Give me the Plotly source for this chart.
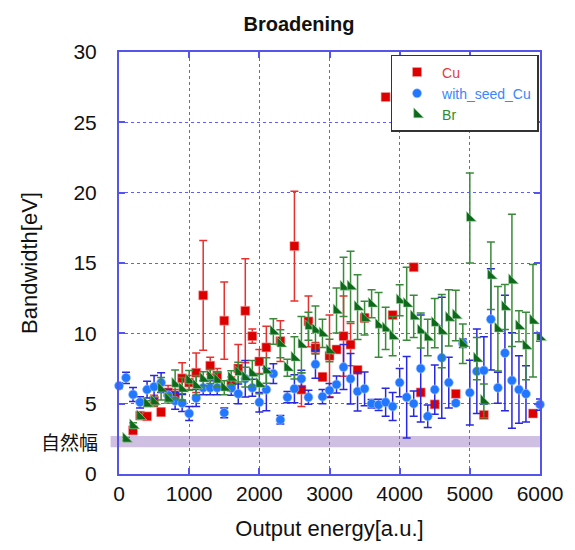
import plotly.graph_objects as go

# ---------------- data ----------------
cu_x = [200, 300, 400, 500, 600, 700, 800, 900, 1000, 1100,
        1200, 1300, 1400, 1500, 1600, 1700, 1800, 1900, 2000, 2100,
        2300, 2500, 2600, 2700, 2800, 2900,
        3000, 3100, 3200, 3300, 3400, 3500,
        3800, 3900, 4200, 4300, 4500, 4800, 5200, 5900]
cu_y = [3.1, 4.15, 4.1, 5.2, 4.4, 5.8, 5.6, 6.8, 6.5, 7.2,
        12.7, 7.7, 7.0, 10.9, 6.4, 7.5, 11.6, 9.8, 8.0, 9.0,
        9.45, 16.2, 6.0, 10.85, 8.95, 6.9,
        8.4, 8.85, 9.8, 9.2, 7.4, 11.1,
        26.8, 11.3, 14.7, 5.8, 4.95, 5.7, 4.2, 4.3]
cu_err = [0.3, 0.2, 0.2, 0.4, 0.3, 0.5, 0.4, 1.1, 0.5, 1.4,
          3.9, 0.6, 0.5, 2.75, 0.5, 1.7, 3.7, 0.5, 0.85, 1.5,
          1.45, 3.9, 1.2, 1.8, 0.4, 0.3,
          2.9, 0.2, 2.85, 1.5, 0.2, 0.3,
          0.2, 0.2, 0.2, 0.2, 0.2, 0.2, 0.2, 0.2]

seed_x = [0, 100, 200, 300, 400, 500, 600, 700, 800, 900,
          1000, 1100, 1200, 1300, 1400, 1500, 1600, 1700, 1800, 1900,
          2000, 2100, 2200, 2300, 2400, 2500, 2600, 2700, 2800, 2900,
          3000, 3100, 3200, 3300, 3400, 3500, 3600, 3700, 3800, 3900,
          4000, 4100, 4200, 4300, 4400, 4500, 4600, 4700, 4800, 4900,
          5000, 5100, 5200, 5300, 5400, 5500, 5600, 5700, 5800, 6000]
seed_y = [6.27, 6.84, 5.65, 5.1, 6.0, 6.2, 6.5, 5.6, 5.2, 5.05,
          4.3, 5.4, 6.13, 6.13, 6.13, 4.35, 6.1, 5.7, 6.77, 6.13,
          5.1, 6.0, 7.13, 3.85, 5.46, 6.06, 6.77, 5.46, 7.8, 5.5,
          5.94, 6.36, 7.6, 6.77, 5.87, 6.06, 5.0, 4.92, 5.1, 4.8,
          6.5, 5.46, 5.0, 7.5, 4.1, 6.0, 8.26, 6.5, 5.04, 9.3,
          5.78, 7.3, 7.36, 11.0, 6.13, 8.6, 6.65, 6.0, 5.7, 4.94]
seed_err = [0.2, 0.4, 0.5, 0.4, 0.6, 0.8, 0.7, 0.4, 0.6, 0.6,
            0.5, 0.6, 0.5, 0.5, 0.5, 0.35, 0.5, 0.7, 1.3, 0.6,
            0.7, 1.5, 0.7, 0.3, 0.4, 1.0, 0.6, 0.5, 1.0, 0.5,
            0.5, 0.6, 1.6, 1.8, 1.4, 1.2, 0.3, 0.4, 1.0, 1.0,
            1.0, 2.9, 0.9, 3.8, 0.8, 1.75, 4.3, 1.8, 0.15, 0.3,
            2.3, 3.0, 2.4, 3.6, 1.1, 4.1, 3.4, 2.4, 2.0, 0.4]

br_x = [100, 200, 300, 400, 500, 600, 700, 800, 900,
        1000, 1100, 1200, 1300, 1400, 1500, 1600, 1700, 1800, 1900,
        2000, 2100, 2200, 2300, 2400, 2500, 2600, 2700, 2800, 2900,
        3000, 3100, 3200, 3300, 3400, 3500, 3600, 3700, 3800, 3900,
        4000, 4100, 4200, 4300, 4400, 4500, 4600, 4700, 4800, 4900,
        5000, 5100, 5200, 5300, 5400, 5500, 5600, 5700, 5800, 5900, 6000]
br_y = [2.5, 3.45, 4.1, 5.0, 5.15, 6.06, 5.35, 6.4, 6.06,
        6.65, 6.3, 6.77, 6.93, 6.7, 6.13, 6.84, 7.24, 6.88, 7.17,
        6.4, 7.36, 10.13, 9.26, 7.55, 8.26, 9.2, 10.5, 10.25, 10.0,
        8.78, 11.63, 13.3, 13.33, 11.87, 11.08, 12.1, 10.6, 10.35, 9.8,
        12.35, 12.1, 11.2, 10.2, 9.7, 10.73, 10.16, 11.1, 11.27, 9.26,
        18.2, 8.2, 5.2, 14.1, 10.33, 11.87, 13.76, 10.5, 9.1, 10.9, 9.73]
br_err = [0.1, 0.2, 0.2, 0.2, 0.3, 0.8, 0.3, 1.0, 0.8,
          0.7, 0.7, 0.5, 0.5, 0.5, 0.5, 0.5, 0.7, 0.7, 0.9,
          0.7, 0.9, 0.9, 1.0, 0.6, 1.5, 2.0, 1.0, 1.7, 1.0,
          0.8, 1.6, 2.1, 2.5, 2.3, 1.2, 1.0, 2.3, 1.5, 1.4,
          1.1, 2.6, 1.5, 1.25, 1.3, 1.75, 2.6, 2.0, 1.8, 1.4,
          3.2, 1.5, 1.2, 2.4, 3.0, 1.6, 4.7, 1.1, 2.4, 4.0, 0.3]

natural_width = [1.9, 2.7]   # 自然幅 band (eV)

# ---------------- styles ----------------
FRAME = "#5555ee"
GRID = "#5f5fff"
FONT = "Liberation Sans, Arial, Helvetica, sans-serif"

fig = go.Figure()

fig.add_trace(go.Scatter(
    x=cu_x, y=cu_y, mode="markers", cliponaxis=False,
    name="<span style='color:#e23b3b'>Cu</span>",
    marker=dict(symbol="square", size=9, color="#dd0000",
                line=dict(width=0.6, color="#f3a0a0")),
    error_y=dict(type="data", array=cu_err, color="#e8302f",
                 thickness=1.5, width=4),
))
fig.add_trace(go.Scatter(
    x=seed_x, y=seed_y, mode="markers", cliponaxis=False,
    name="<span style='color:#3a86ff'>with_seed_Cu</span>",
    marker=dict(symbol="circle", size=9, color="#2277ff",
                line=dict(width=0.6, color="#a0c4ff")),
    error_y=dict(type="data", array=seed_err, color="#2828e0",
                 thickness=1.5, width=4),
))
fig.add_trace(go.Scatter(
    x=br_x, y=br_y, mode="markers", cliponaxis=False,
    name="<span style='color:#2e8b2e'>Br</span>",
    marker=dict(symbol="triangle-sw", size=11, color="#0c6a1a",
                line=dict(width=0.6, color="#9fd0a0")),
    error_y=dict(type="data", array=br_err, color="#3b8a3b",
                 thickness=1.5, width=4),
))

# natural width band
fig.add_shape(type="rect", xref="paper", yref="y",
              x0=-0.02, x1=1, y0=natural_width[0], y1=natural_width[1],
              fillcolor="#cfc0e3", line=dict(width=0), layer="below")
fig.add_annotation(text="自然幅", xref="paper", yref="y",
                   x=-0.045, y=sum(natural_width) / 2,
                   xanchor="right", yanchor="middle", showarrow=False,
                   font=dict(family="Noto Sans CJK JP", size=19, color="#111"))

axis_common = dict(
    showline=True, linecolor=FRAME, linewidth=2, mirror="ticks",
    ticks="inside", ticklen=6, tickwidth=2, tickcolor=FRAME,
    showgrid=True, gridcolor=GRID, gridwidth=1.2, griddash="dot",
    zeroline=False,
    tickfont=dict(family=FONT, size=21, color="#111"),
)

fig.update_layout(
    width=575, height=550,
    margin=dict(l=119, r=35, t=52, b=76),
    paper_bgcolor="white", plot_bgcolor="white",
    title=dict(text="<b>Broadening</b>", x=299 / 575, xanchor="center",
               y=1 - 24 / 550, yanchor="middle",
               font=dict(family=FONT, size=20, color="#111")),
    xaxis=dict(range=[0, 6000], dtick=1000, **axis_common,
               title=dict(text="Output energy[a.u.]", standoff=16,
                          font=dict(family=FONT, size=22, color="#111"))),
    yaxis=dict(range=[0, 30], dtick=5, ticklabelstandoff=16, **axis_common,
               title=dict(text="Bandwidth[eV]", standoff=30,
                          font=dict(family=FONT, size=22, color="#111"))),
    legend=dict(x=0.645, y=0.993, xanchor="left", yanchor="top",
                bgcolor="white", bordercolor="#333", borderwidth=1.5,
                font=dict(family=FONT, size=14),
                itemwidth=40, tracegroupgap=0),
    showlegend=True,
)

fig.write_html("out.html")
